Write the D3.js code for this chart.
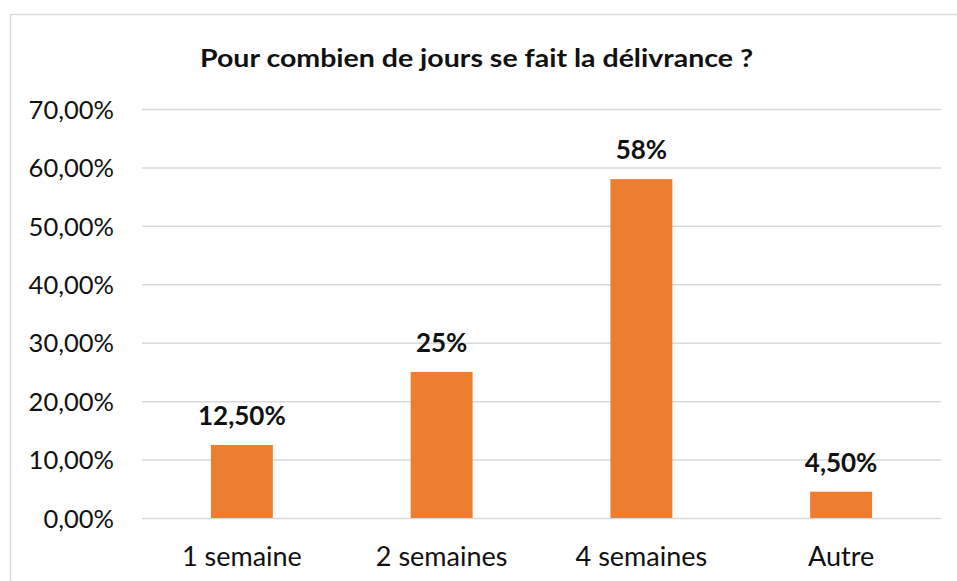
<!DOCTYPE html>
<html>
<head>
<meta charset="utf-8">
<script src="https://cdn.jsdelivr.net/npm/d3@7"></script>
<style>
  html, body { margin: 0; padding: 0; background: #fff; }
  svg { display: block; }
</style>
</head>
<body>
<script>
// Chart data
const categories = ["1 semaine", "2 semaines", "4 semaines", "Autre"];
const values = [0.125, 0.25, 0.58, 0.045];
const valueLabels = ["12,50%", "25%", "58%", "4,50%"];
const yTicks = [0, 0.1, 0.2, 0.3, 0.4, 0.5, 0.6, 0.7];
const titleText = "Pour combien de jours se fait la délivrance ?";

const W = 957, H = 581;
const FONT = "Lato, 'Open Sans', sans-serif";
const plot = { left: 142, right: 941, top: 109, bottom: 518 };

const svg = d3.select("body").append("svg")
  .attr("width", W).attr("height", H);

// Chart frame
svg.append("rect")
  .attr("x", 10.5).attr("y", 14.5)
  .attr("width", 960).attr("height", 600)
  .attr("fill", "#fff")
  .attr("stroke", "#d9d9d9").attr("stroke-width", 1.5);

const x = d3.scaleBand()
  .domain(categories)
  .range([plot.left, plot.right])
  .paddingInner(0.69)
  .paddingOuter(0.345);

const y = d3.scaleLinear()
  .domain([0, 0.7])
  .range([plot.bottom, plot.top]);

const fmtPct = v => d3.format(".2f")(v * 100).replace(".", ",") + "%";

// Gridlines + y labels
const yAxis = d3.axisLeft(y)
  .tickValues(yTicks)
  .tickSize(-(plot.right - plot.left))
  .tickFormat(fmtPct)
  .tickPadding(28);

const gy = svg.append("g")
  .attr("transform", `translate(${plot.left},0)`)
  .call(yAxis);
gy.select(".domain").remove();
gy.selectAll(".tick line")
  .attr("stroke", "#d9d9d9").attr("stroke-width", 1.5);
gy.selectAll(".tick text")
  .attr("font-family", FONT).attr("font-size", 25.5)
  .attr("fill", "#111").attr("dy", "0.36em");

// Category axis
const xAxis = d3.axisBottom(x).tickSize(0).tickPadding(0);
const gx = svg.append("g")
  .attr("transform", `translate(0,${plot.bottom})`)
  .call(xAxis);
gx.select(".domain").remove();
gx.selectAll(".tick text")
  .attr("font-family", FONT).attr("font-size", 27)
  .attr("fill", "#111")
  .attr("dy", null)
  .attr("y", 48);

// Bars
svg.append("g").selectAll("rect")
  .data(values)
  .join("rect")
  .attr("x", (d, i) => x(categories[i]))
  .attr("width", x.bandwidth())
  .attr("y", d => y(d))
  .attr("height", d => y(0) - y(d))
  .attr("fill", "#ED7D31");

// Value labels
svg.append("g").selectAll("text")
  .data(values)
  .join("text")
  .attr("x", (d, i) => x(categories[i]) + x.bandwidth() / 2)
  .attr("y", d => y(d) - 20)
  .attr("text-anchor", "middle")
  .attr("font-family", FONT).attr("font-size", 26)
  .attr("font-weight", "bold")
  .attr("fill", "#111")
  .text((d, i) => valueLabels[i]);

// Title
svg.append("text")
  .attr("x", 476.5).attr("y", 67)
  .attr("text-anchor", "middle")
  .attr("font-family", FONT).attr("font-size", 25)
  .attr("font-weight", "bold")
  .attr("fill", "#111")
  .attr("textLength", 553)
  .attr("lengthAdjust", "spacingAndGlyphs")
  .text(titleText);
</script>
</body>
</html>
